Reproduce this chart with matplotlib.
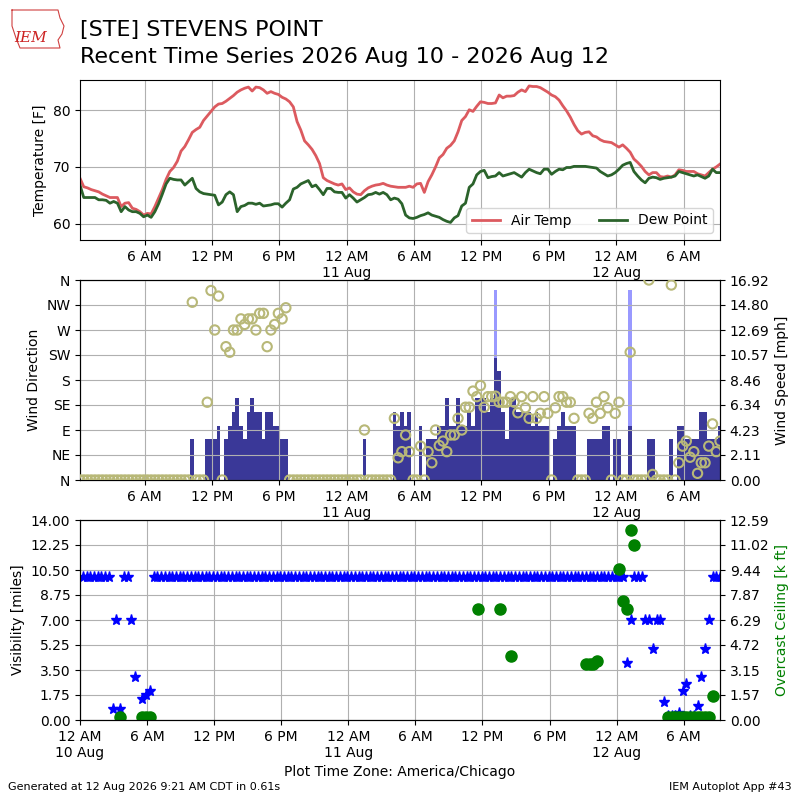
import datetime
import numpy as np
import matplotlib
matplotlib.use("Agg")
import matplotlib.pyplot as plt
import matplotlib.dates as mdates
from matplotlib.ticker import FuncFormatter

# observations every 20 minutes, starting 00:15 on 10 Aug
start = datetime.datetime(2026, 8, 10, 0, 15)
n_obs = 172
times = [start + datetime.timedelta(minutes=20 * i) for i in range(n_obs)]

temp_f = [
    68.0, 66.5, 66.3, 66.0, 65.8, 65.6, 65.2, 64.9, 64.6, 64.6,
    64.6, 63.0, 63.6, 63.7, 62.7, 62.5, 62.1, 61.5, 61.8, 61.7,
    63.0, 64.5, 66.0, 67.8, 69.2, 69.9, 71.0, 72.8, 73.6, 74.8,
    76.1, 76.6, 77.0, 78.2, 79.0, 79.8, 80.6, 81.1, 81.2, 81.6,
    82.1, 82.6, 83.2, 83.6, 83.9, 84.1, 83.4, 84.1, 84.0, 83.6,
    83.0, 83.3, 83.0, 82.8, 82.3, 82.0, 81.5, 80.6, 78.0, 76.5,
    74.6, 73.9, 73.1, 72.0, 70.6, 68.1, 67.6, 67.3, 67.0, 66.8,
    67.0, 66.0, 66.3, 65.6, 65.2, 65.1, 65.8, 66.3, 66.6, 66.8,
    66.9, 67.1, 66.8, 66.6, 66.5, 66.4, 66.4, 66.4, 66.6, 66.4,
    67.0, 67.1, 65.5, 67.4, 68.6, 70.0, 71.6, 72.2, 73.3, 73.8,
    74.6, 76.2, 78.2, 78.9, 80.1, 79.8, 80.7, 81.5, 81.4, 81.2,
    81.2, 81.3, 82.7, 82.2, 82.5, 82.5, 82.6, 83.2, 83.6, 83.3,
    84.3, 84.2, 84.2, 84.0, 83.6, 83.2, 82.7, 82.4, 81.8, 80.8,
    79.9, 78.8, 77.5, 76.4, 75.8, 76.1, 76.2, 75.5, 75.3, 74.8,
    74.5, 74.4, 74.3, 73.9, 73.5, 73.9, 73.3, 72.6, 71.4, 70.8,
    70.1, 69.2, 68.6, 69.0, 69.0, 68.3, 68.2, 68.4, 68.2, 68.6,
    69.5, 69.4, 69.2, 69.2, 69.2, 68.8, 68.6, 68.4, 69.0, 69.6,
    70.0, 70.5,
]

dewp_f = [
    66.8, 64.6, 64.6, 64.6, 64.6, 64.2, 64.2, 64.1, 63.6, 63.9,
    63.6, 62.1, 63.0, 62.4, 62.1, 62.1, 61.8, 61.2, 61.5, 61.1,
    62.1, 63.5, 65.2, 67.0, 68.0, 67.8, 67.7, 67.7, 66.8, 67.4,
    68.0, 66.2, 65.6, 65.3, 65.2, 65.1, 65.0, 63.3, 63.8, 65.1,
    65.6, 65.1, 62.1, 63.0, 63.2, 63.6, 63.6, 63.4, 63.6, 63.1,
    63.2, 63.3, 63.5, 63.5, 62.9, 63.6, 64.2, 66.1, 66.4, 67.0,
    67.3, 67.6, 66.5, 66.8, 66.0, 65.1, 66.2, 66.2, 65.6, 65.5,
    65.5, 64.5, 65.1, 64.5, 63.8, 64.2, 64.6, 65.1, 65.2, 65.5,
    65.2, 65.5, 65.1, 64.2, 64.5, 64.3, 63.5, 61.5, 61.0, 60.9,
    61.1, 61.4, 61.6, 61.9, 61.5, 61.3, 61.1, 60.7, 60.4, 60.2,
    61.0, 61.4, 63.1, 63.6, 66.4, 67.0, 68.6, 69.2, 69.4, 68.1,
    68.3, 68.4, 69.0, 68.4, 68.6, 68.8, 69.0, 68.6, 68.2, 69.0,
    69.6, 69.3, 69.0, 68.8, 69.6, 69.6, 68.7, 69.2, 69.6, 69.5,
    69.9, 69.9, 70.1, 70.1, 70.1, 70.1, 70.0, 69.9, 69.8, 69.2,
    68.8, 68.4, 68.6, 69.0, 69.6, 70.3, 70.6, 70.8, 69.2, 68.4,
    67.7, 67.2, 68.0, 68.2, 68.1, 67.8, 68.0, 68.1, 68.2, 68.4,
    69.2, 69.0, 68.8, 68.6, 68.4, 68.6, 68.3, 68.0, 68.4, 69.6,
    69.0, 69.0,
]

# wind speed in knots (0 = calm)
wind_kt = (
    [0] * 30
    + [3, 0, 0, 0, 3, 3, 3, 4, 0, 3, 4, 5, 6, 4, 3, 5, 6, 5, 5, 3,
       5, 5, 4, 4, 3, 3]
    + [0] * 20
    + [3]
    + [0] * 7
    + [5, 4, 5, 4, 5, 0, 0, 4, 0, 3, 3, 3, 4, 4, 6, 4, 4, 6, 4, 4,
       5, 4, 6, 6, 6, 5, 6, 9, 8, 5, 3, 6, 6, 5, 5, 5, 5, 4, 5, 4,
       4, 4, 0, 3, 4, 5, 4, 4, 4, 0, 0, 0, 3, 3, 3, 3, 4, 4, 0, 3,
       3, 0, 0, 4, 0, 0, 0, 0, 3, 3, 0, 0, 0, 0, 3, 0, 4, 4, 3, 3,
       3, 3, 5, 5, 3, 3, 3, 4]
)

wind_dir = (
    [0] * 30
    + [320, 0, 0, 0, 140, 341, 270, 331, 0, 240, 230, 270, 270, 290, 280,
       290, 290, 270, 300, 300, 240, 270, 280, 300, 290, 310]
    + [0] * 20
    + [90]
    + [0] * 7
    + [111, 40, 51, 81, 51, 0, 0, 61, 0, 51, 31, 90, 62, 70, 51, 81, 81,
       111, 90, 131, 131, 160, 150, 170, 131, 150, 150, 151, 140, 140, 140,
       150, 140, 121, 150, 130, 111, 150, 111, 120, 150, 120, 0, 130, 150,
       150, 140, 140, 111, 0, 0, 0, 120, 111, 140, 120, 150, 130, 0, 120,
       140, 0, 0, 230, 0, 0, 0, 0, 360, 10, 0, 0, 0, 0, 351, 0, 31, 61,
       70, 41, 51, 12, 31, 31, 61, 101, 51, 70]
)

gust_obs = [111, 147]
gust_kt = [14, 14]

nan = float("nan")
vis_mile = (
    [10.0] * 8
    + [0.75, 7.0, 0.75, 10.0, 10.0, 7.0, 3.0, nan, 1.5, 1.75, 2.0]
    + [10.0] * 127
    + [4.0, 7.0, 10.0, 10.0, 10.0, 7.0, 7.0, 5.0, 7.0, 7.0, 1.25, 0.25,
       0.25, 0.25, 0.5, 2.0, 2.5, 0.25, 0.25, 1.0, 3.0, 5.0, 7.0, 10.0,
       10.0, 10.0]
)

ceil_obs = [10, 16, 17, 18, 106, 112, 115, 135, 136, 137, 138, 144, 145,
            146, 147, 148, 157, 158, 159, 160, 161, 162, 163, 164, 165,
            166, 167, 168, 169]
ceil_kft = [0.2, 0.2, 0.2, 0.2, 7.0, 7.0, 4.0, 3.5, 3.5, 3.5, 3.7, 9.5, 7.5,
            7.0, 11.99, 11.0, 0.2, 0.2, 0.2, 0.2, 0.2, 0.2, 0.2, 0.2, 0.2,
            0.2, 0.2, 0.2, 1.5]

dir_labels = ["N", "NE", "E", "SE", "S", "SW", "W", "NW", "N"]

KT2MPH = 1.15078
wind_mph = np.array(wind_kt) * KT2MPH
gust_mph = np.array(gust_kt) * KT2MPH
gust_times = [times[i] for i in gust_obs]
ceil_times = [times[i] for i in ceil_obs]


def timefmt(x, pos=None):
    d = mdates.num2date(x)
    if d.hour == 0:
        return "12 AM\n%d Aug" % d.day
    return d.strftime("%-I %p")


def setup_x(ax):
    ax.xaxis.set_major_locator(mdates.HourLocator(byhour=[0, 6, 12, 18]))
    ax.xaxis.set_major_formatter(FuncFormatter(timefmt))
    ax.grid(True)


fig = plt.figure(figsize=(8, 8), dpi=100)

# header
fig.text(0.1, 0.9625, "[STE] STEVENS POINT", fontsize=16, va="center")
fig.text(0.1, 0.929, "Recent Time Series 2026 Aug 10 - 2026 Aug 12",
         fontsize=16, va="center")
iowa = [(12, 10), (58, 10), (60, 18), (64, 26), (62, 34), (58, 40),
        (60, 48), (20, 48), (16, 38), (12, 26), (12, 10)]
fig.add_artist(plt.Line2D([p[0] / 800. for p in iowa],
                          [1 - p[1] / 800. for p in iowa],
                          color="#d04040", lw=0.8))
fig.text(0.038, 0.952, "IEM", color="#cc2222", fontsize=11,
         family="DejaVu Serif", style="italic", ha="center", va="center")

# temperature
ax1 = fig.add_axes([0.1, 0.7, 0.8, 0.2])
ax1.plot(times, temp_f, color="#dc5a5f", lw=2, label="Air Temp")
ax1.plot(times, dewp_f, color="#2b632b", lw=2, label="Dew Point")
ax1.set_ylabel("Temperature [F]")
ax1.set_ylim(57.1, 85.35)
ax1.set_yticks([60, 70, 80])
ax1.set_xlim(times[0], times[-1])
setup_x(ax1)
ax1.legend(loc="lower right", ncol=2)

# wind
ax2 = fig.add_axes([0.1, 0.4, 0.8, 0.25])
ax2b = ax2.twinx()
ax2b.bar(gust_times, gust_mph, width=20 / 1440., color="#9999ff", zorder=1)
ax2b.bar(times, wind_mph, width=20 / 1440., color="#3a3898", zorder=2)
top = gust_mph.max() * 1.05
ax2b.set_ylim(0, top)
ax2b.set_yticks(np.linspace(0, top, 9))
ax2b.yaxis.set_major_formatter(FuncFormatter(lambda v, p: "%.2f" % v))
ax2b.set_ylabel("Wind Speed [mph]")
ax2.set_zorder(ax2b.get_zorder() + 1)
ax2.patch.set_visible(False)
ax2.scatter(times, wind_dir, facecolor="none", edgecolor="#b8b878",
            s=45, lw=1.5, zorder=3)
ax2.set_ylim(0, 360)
ax2.set_yticks(range(0, 361, 45))
ax2.set_yticklabels(dir_labels)
ax2.set_ylabel("Wind Direction")
ax2.set_xlim(times[0], times[-1])
setup_x(ax2)

# visibility / ceiling
ax3 = fig.add_axes([0.1, 0.1, 0.8, 0.25])
ax3.plot(times, vis_mile, "*", color="b", ms=8)
ax3.set_ylim(0, 14)
ax3.set_yticks(np.linspace(0, 14, 9))
ax3.yaxis.set_major_formatter(FuncFormatter(lambda v, p: "%.2f" % v))
ax3.set_ylabel("Visibility [miles]")
ax3b = ax3.twinx()
ax3b.plot(ceil_times, ceil_kft, "o", color="g", ms=8)
ctop = max(ceil_kft) * 1.05
ax3b.set_ylim(0, ctop)
ax3b.set_yticks(np.linspace(0, ctop, 9))
ax3b.yaxis.set_major_formatter(FuncFormatter(lambda v, p: "%.2f" % v))
ax3b.set_ylabel("Overcast Ceiling [k ft]", color="g")
ax3.set_xlim(datetime.datetime(2026, 8, 10, 0, 0), times[-1])
setup_x(ax3)
ax3.set_xlabel("Plot Time Zone: America/Chicago")

# footer
fig.text(0.01, 0.012, "Generated at 12 Aug 2026 9:21 AM CDT in 0.61s",
         fontsize=8)
fig.text(0.99, 0.012, "IEM Autoplot App #43", fontsize=8, ha="right")

fig.savefig("out.png", dpi=100)
